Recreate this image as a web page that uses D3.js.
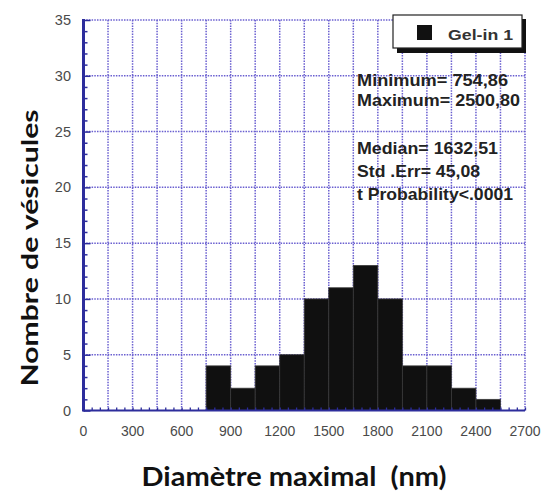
<!DOCTYPE html>
<html><head><meta charset="utf-8">
<script src="https://cdn.jsdelivr.net/npm/d3@7"></script>
<style>html,body{margin:0;padding:0;background:#fff;}svg{display:block;}</style>
</head><body>
<svg id="chart" width="541" height="493"></svg>
<script>
// ---- data ----
const binLower = [750, 900, 1050, 1200, 1350, 1500, 1650, 1800, 1950, 2100, 2250, 2400];
const binUpper = [900, 1050, 1200, 1350, 1500, 1650, 1800, 1950, 2100, 2250, 2400, 2550];
const counts   = [4, 2, 4, 5, 10, 11, 13, 10, 4, 4, 2, 1];
const xTicks = [0, 300, 600, 900, 1200, 1500, 1800, 2100, 2400, 2700];
const yTicks = [0, 5, 10, 15, 20, 25, 30, 35];
const seriesName = "Gel-in 1";
const statLines = ["Minimum= 754,86", "Maximum= 2500,80", "Median= 1632,51", "Std .Err= 45,08", "t Probability<.0001"];
const xTitle = "Diamètre maximal\u00a0 (nm)";
const yTitle = "Nombre de vésicules";

// ---- layout ----
const svg = d3.select("#chart");
const x = d3.scaleLinear().domain([0, 2700]).range([83.5, 525]);
const y = d3.scaleLinear().domain([0, 35]).range([410.5, 20]);
const gridColor = "#6a5fd0";
const axisColor = "#2d2d9c";

// gridlines
const gx = d3.range(0, 2701, 150);
const gy = d3.range(0, 36, 5);
svg.append("g").selectAll("line").data(gx.slice(1)).join("line")
  .attr("x1", d => x(d)).attr("x2", d => x(d)).attr("y1", y(35)).attr("y2", y(0))
  .attr("stroke", gridColor).attr("stroke-width", 1.5).attr("stroke-dasharray", "1.5,1.2");
svg.append("g").selectAll("line").data(gy.slice(1)).join("line")
  .attr("x1", x(0)).attr("x2", x(2700)).attr("y1", d => y(d)).attr("y2", d => y(d))
  .attr("stroke", gridColor).attr("stroke-width", 1.5).attr("stroke-dasharray", "1.5,1.2");

// bars
svg.append("g").selectAll("rect").data(counts).join("rect")
  .attr("x", (d, i) => x(binLower[i]))
  .attr("width", (d, i) => x(binUpper[i]) - x(binLower[i]))
  .attr("y", d => y(d))
  .attr("height", d => y(0) - y(d))
  .attr("fill", "#101010").attr("stroke", "#3a3a3a").attr("stroke-width", 0.8);

// y axis
const yAxis = d3.axisRight(y).tickValues(d3.range(0, 36, 1)).tickSize(4).tickFormat("");
const ya = svg.append("g").attr("transform", `translate(${x(0)},0)`).call(yAxis);
ya.select(".domain").remove();
ya.selectAll("line").attr("stroke", axisColor).attr("stroke-width", 1.5);
ya.selectAll(".tick").filter(d => d % 5 === 0).select("line").attr("x2", 7);
svg.append("line").attr("x1", x(0)).attr("x2", x(0)).attr("y1", y(35) - 1).attr("y2", y(0) + 1)
  .attr("stroke", axisColor).attr("stroke-width", 3);

// x axis
const xAxis = d3.axisTop(x).tickValues(d3.range(0, 2701, 50)).tickSize(3).tickFormat("");
const xa = svg.append("g").attr("transform", `translate(0,${y(0)})`).call(xAxis);
xa.select(".domain").remove();
xa.selectAll("line").attr("stroke", axisColor).attr("stroke-width", 1.3);
svg.append("line").attr("x1", x(0)).attr("x2", x(2700)).attr("y1", y(0)).attr("y2", y(0))
  .attr("stroke", axisColor).attr("stroke-width", 2);

// tick labels
svg.append("g").selectAll("text").data(yTicks).join("text")
  .attr("x", 71).attr("y", d => y(d) + 5).attr("text-anchor", "end")
  .attr("font-family", "Liberation Sans, Arial, sans-serif").attr("font-size", 14.5)
  .attr("fill", "#4a4a4a").text(d => d);
svg.append("g").selectAll("text").data(xTicks).join("text")
  .attr("x", d => x(d)).attr("y", 436).attr("text-anchor", "middle")
  .attr("font-family", "Liberation Sans, Arial, sans-serif").attr("font-size", 14)
  .attr("fill", "#4a4a4a").text(d => d);

// legend
const lg = svg.append("g");
lg.append("rect").attr("x", 397).attr("y", 19).attr("width", 129).attr("height", 34).attr("fill", "#111");
lg.append("rect").attr("x", 393).attr("y", 15).attr("width", 129).attr("height", 33)
  .attr("fill", "#fff").attr("stroke", "#222").attr("stroke-width", 1.2);
lg.append("rect").attr("x", 417).attr("y", 25).attr("width", 15).attr("height", 15).attr("fill", "#111");
lg.append("text").attr("x", 448).attr("y", 40).attr("font-family", "Liberation Sans, Arial, sans-serif")
  .attr("font-weight", "bold").attr("font-size", 15).attr("fill", "#333")
  .attr("textLength", 65).attr("lengthAdjust", "spacingAndGlyphs").text(seriesName);

// stats
const statY = [86, 106, 154, 177, 200];
const statW = [151, 163, 141, 123, 156];
svg.append("g").selectAll("text").data(statLines).join("text")
  .attr("x", 357).attr("y", (d, i) => statY[i])
  .attr("font-family", "Liberation Sans, Arial, sans-serif").attr("font-weight", "bold")
  .attr("font-size", 16.5).attr("fill", "#222")
  .attr("textLength", (d, i) => statW[i]).attr("lengthAdjust", "spacingAndGlyphs")
  .text(d => d);

// titles
svg.append("text").attr("x", 294).attr("y", 486).attr("text-anchor", "middle")
  .attr("font-family", "Lato, 'Open Sans', sans-serif").attr("font-weight", "bold")
  .attr("font-size", 27).attr("fill", "#111")
  .attr("textLength", 305).attr("lengthAdjust", "spacingAndGlyphs").text(xTitle);
svg.append("text").attr("transform", "translate(38,248) rotate(-90)").attr("text-anchor", "middle")
  .attr("font-family", "Lato, 'Open Sans', sans-serif").attr("font-weight", "bold")
  .attr("font-size", 23).attr("fill", "#111")
  .attr("textLength", 277).attr("lengthAdjust", "spacingAndGlyphs").text(yTitle);
</script>
</body></html>
